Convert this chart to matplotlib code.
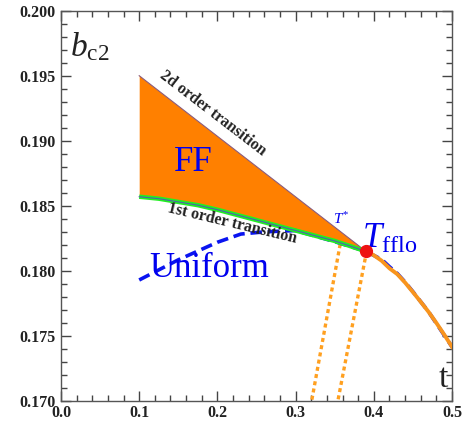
import numpy as np
import matplotlib
matplotlib.use("Agg")
import matplotlib.pyplot as plt
from matplotlib.ticker import MultipleLocator, FormatStrFormatter

plt.rcParams['font.family'] = ['Liberation Serif', 'DejaVu Serif']
plt.rcParams['mathtext.fontset'] = 'custom'
plt.rcParams['mathtext.rm'] = 'Liberation Serif'
plt.rcParams['mathtext.it'] = 'Liberation Serif:italic'
plt.rcParams['mathtext.bf'] = 'Liberation Serif:bold'

# --- data ---
t_upper = [0.1, 0.39]
b_upper = [0.195, 0.1815]

t_first = [0.1, 0.125, 0.15, 0.175, 0.2, 0.225, 0.25, 0.275, 0.3, 0.325, 0.35, 0.37, 0.39]
b_first = [0.1857, 0.18555, 0.1853, 0.18505, 0.1847, 0.1843, 0.1839, 0.1835, 0.1831,
           0.1827, 0.1823, 0.1819, 0.1815]

t_unif = [0.1, 0.15, 0.2, 0.23, 0.26, 0.3, 0.35, 0.39, 0.41, 0.42, 0.43, 0.44, 0.45,
          0.47, 0.5]
b_unif = [0.1793, 0.18085, 0.1822, 0.18283, 0.1830, 0.1831, 0.18225, 0.1815,
          0.18088, 0.18032, 0.1798, 0.17914, 0.1784, 0.17686, 0.17416]

t_fflo = [0.39, 0.395, 0.40, 0.41, 0.42, 0.43, 0.44, 0.45, 0.46, 0.47, 0.48, 0.49, 0.5]
b_fflo = [0.1815, 0.18137, 0.1812, 0.18078, 0.1802, 0.17975, 0.1791, 0.17837, 0.17762,
          0.17685, 0.1760, 0.1751, 0.17416]

t_dot1 = [0.357, 0.3205]
b_dot1 = [0.18205, 0.170]
t_dot2 = [0.389, 0.354]
b_dot2 = [0.18095, 0.170]

t_star = 0.39
b_star = 0.1815

fig = plt.figure(figsize=(4.71, 4.28), dpi=100)
ax = fig.add_axes([0.1295, 0.0631, 0.8302, 0.912])

upper_on_first = np.interp(t_first, t_upper, b_upper)
ax.fill_between(t_first, b_first, upper_on_first, color='#FF8000', lw=0, zorder=2)
ax.plot(t_upper, b_upper, color='#8A5A7A', lw=0.8, zorder=3)
ax.plot(t_unif, b_unif, color='#0A14F0', lw=2.6, ls=(0, (3.2, 1.6)), zorder=2.5)
ax.plot(t_first, b_first, color='#22EE22', lw=3.2, zorder=3, solid_capstyle='butt')
ax.plot(t_first, b_first, color='#5060B0', lw=0.8, zorder=3.1)
ax.plot(t_fflo, b_fflo, color='#F8941D', lw=2.8, zorder=4)
ax.plot(t_dot1, b_dot1, color='#FFA020', lw=2.4, ls=(0, (1.2, 1.0)), zorder=2)
ax.plot(t_dot2, b_dot2, color='#FFA020', lw=2.4, ls=(0, (1.2, 1.0)), zorder=2)
ax.plot([t_star], [b_star], 'o', color='#EE1111', ms=8.5, zorder=5)

ax.set_xlim(0.0, 0.5)
ax.set_ylim(0.170, 0.200)
ax.xaxis.set_major_locator(MultipleLocator(0.1))
ax.xaxis.set_minor_locator(MultipleLocator(0.02))
ax.yaxis.set_major_locator(MultipleLocator(0.005))
ax.yaxis.set_minor_locator(MultipleLocator(0.001))
ax.xaxis.set_major_formatter(FormatStrFormatter('%.1f'))
ax.yaxis.set_major_formatter(FormatStrFormatter('%.3f'))
ax.tick_params(which='both', direction='in', top=True, right=True, color='#444444', width=1.0)
ax.tick_params(which='major', length=7)
ax.tick_params(which='minor', length=4)
for lab in ax.get_xticklabels() + ax.get_yticklabels():
    lab.set_fontweight('bold')
    lab.set_fontsize(11.5)
    lab.set_color('#222222')
ax.tick_params(axis='x', pad=3)
ax.tick_params(axis='y', pad=4)
for s in ax.spines.values():
    s.set_color('#555555')
    s.set_linewidth(1.0)

ax.text(0.012, 0.1985, r'$b_{\mathrm{c2}}$', fontsize=24, color='#222222', va='top', ha='left')
ax.text(0.495, 0.1705, 't', fontsize=24, color='#222222', va='bottom', ha='right')
ax.text(0.169, 0.1883, 'FF', fontsize=25, color='#0000EE', ha='center', va='center')
ax.text(0.189, 0.1802, 'Uniform', fontsize=25, color='#0000EE', ha='center', va='center')
ax.text(0.385, 0.1818, r'$T_{\mathrm{fflo}}$', fontsize=25, color='#0000EE', ha='left', va='baseline')
ax.text(0.348, 0.1836, r'$T^{*}$', fontsize=11, color='#0000EE', ha='left', va='baseline')
ax.text(0.194, 0.1921, '2d order transition', fontsize=11.5, fontweight='bold', color='#222222',
        rotation=-37.5, ha='center', va='center', rotation_mode='anchor')
ax.text(0.219, 0.18365, '1st order transition', fontsize=11.5, fontweight='bold', color='#222222',
        rotation=-13.5, ha='center', va='center', rotation_mode='anchor')

fig.savefig('out.png', dpi=100)
